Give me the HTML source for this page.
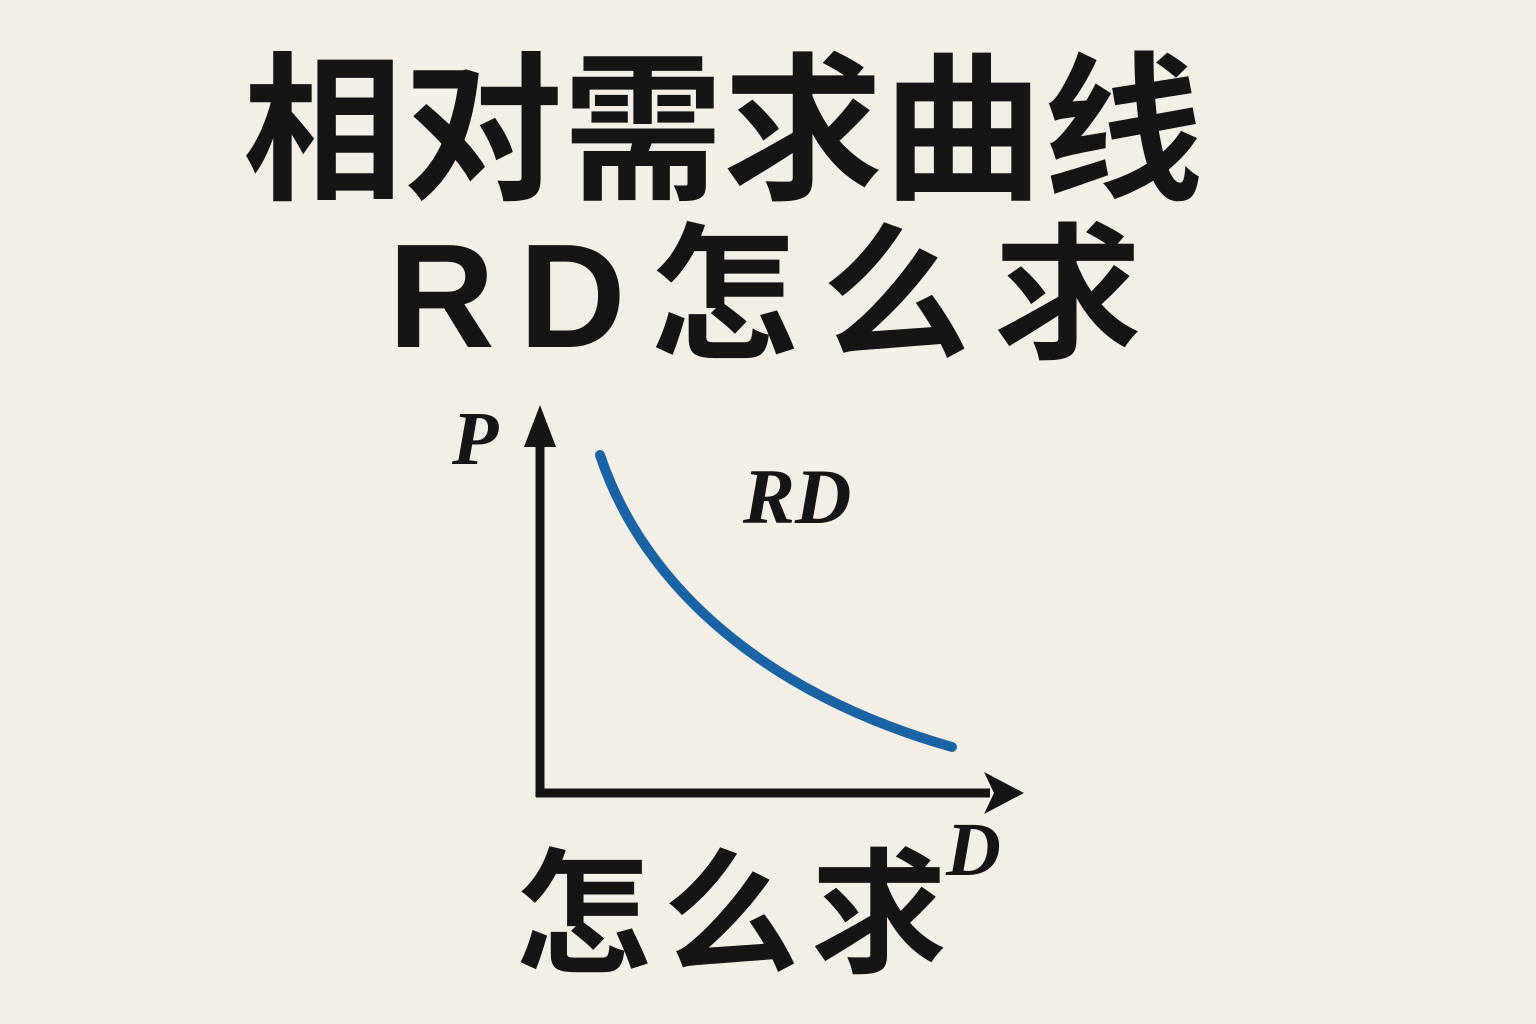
<!DOCTYPE html>
<html><head><meta charset="utf-8"><style>
html,body{margin:0;padding:0}
body{width:1536px;height:1024px;background:#f4efe6;position:relative;overflow:hidden;font-family:"Liberation Sans","Noto Sans CJK SC",sans-serif;color:#151515}
.t{position:absolute;font-weight:700;white-space:nowrap;line-height:1}
</style></head><body>
<div class="t" style="left:243px;top:52px;font-size:160px;letter-spacing:0px">相对需求曲线</div>
<div class="t" style="left:388px;top:223px;font-size:148px;letter-spacing:24px">RD怎么求</div>
<div class="t" style="left:515px;top:847px;font-size:136px;letter-spacing:12px">怎么求</div>
<svg width="1536" height="1024" style="position:absolute;left:0;top:0">
<line x1="540" y1="440" x2="540" y2="797" stroke="#151515" stroke-width="9"/>
<polygon points="540,405 524,447 556,447" fill="#151515"/>
<line x1="536" y1="793" x2="990" y2="793" stroke="#151515" stroke-width="9"/>
<polygon points="1024,793 984,772 994,793 984,814" fill="#151515"/>
<path d="M600,455 C645,590 770,695 952,747" fill="none" stroke="#1a64a6" stroke-width="10" stroke-linecap="round"/>
<text x="452" y="464" font-family="Liberation Serif,serif" font-style="italic" font-weight="700" font-size="76" fill="#151515">P</text>
<text x="743" y="523" font-family="Liberation Serif,serif" font-style="italic" font-weight="700" font-size="78" fill="#151515">RD</text>
<text x="946" y="875" font-family="Liberation Serif,serif" font-style="italic" font-weight="700" font-size="76" fill="#151515">D</text>
</svg>
</body></html>
